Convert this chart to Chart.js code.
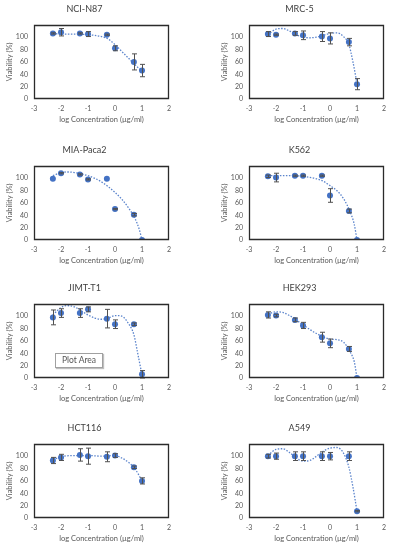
<!DOCTYPE html>
<html><head><meta charset="utf-8">
<script src="https://cdn.jsdelivr.net/npm/chart.js@4.4.0/dist/chart.umd.min.js"></script>
<style>
html,body{margin:0;padding:0;background:#fff;}
body{width:393px;height:550px;position:relative;overflow:hidden;}
.c{position:absolute;width:173px;height:130px;}
.tip{position:absolute;left:55px;top:353px;width:46px;height:13px;border:1px solid #a0a0a0;background:#fff;
 box-shadow:1px 1px 1px rgba(0,0,0,0.25);font:8.5px Lato,"Liberation Sans",sans-serif;color:#555;line-height:13px;text-align:center;}
</style></head><body>
<div class="c" style="left:0;top:0"><canvas id="c0" width="173" height="130"></canvas></div>
<div class="c" style="left:215px;top:0"><canvas id="c1" width="173" height="130"></canvas></div>
<div class="c" style="left:0;top:141px"><canvas id="c2" width="173" height="130"></canvas></div>
<div class="c" style="left:215px;top:141px"><canvas id="c3" width="173" height="130"></canvas></div>
<div class="c" style="left:0;top:279px"><canvas id="c4" width="173" height="130"></canvas></div>
<div class="c" style="left:215px;top:279px"><canvas id="c5" width="173" height="130"></canvas></div>
<div class="c" style="left:0;top:419px"><canvas id="c6" width="173" height="130"></canvas></div>
<div class="c" style="left:215px;top:419px"><canvas id="c7" width="173" height="130"></canvas></div>
<div class="tip">Plot Area</div>
<script>
// log10 concentrations (µg/ml)
const logConc = [-2.301, -2, -1.301, -1, -0.301, 0, 0.699, 1];
const xTicks = [-3, -2, -1, 0, 1, 2];
const yTicks = [0, 20, 40, 60, 80, 100, 120];

const titles = ["NCI-N87", "MRC-5", "MIA-Paca2", "K562", "JIMT-T1", "HEK293", "HCT116", "A549"];

// viability (%) per cell line
const nci = [106, 108, 106, 105, 104, 82, 60, 46];
const mrc = [105, 104, 106, 103, 101, 98, 92, 24];
const mia = [99, 108, 106, 98, 99, 50, 41, 0];
const k562 = [103, 101, 104, 104, 104, 72, 47, 0];
const jimt = [98, 105, 105, 111, 96, 87, 87, 6];
const hek = [102, 101, 94, 85, 66, 56, 47, 0];
const hct = [93, 98, 102, 100, 99, 101, 82, 60];
const a549 = [100, 100, 100, 100, 100, 100, 100, 11];

// error bar half-widths
const nciErr = [1, 6, 1, 4, 1, 4, 13, 10];
const mrcErr = [4, 1, 3, 7, 8, 9, 6, 9];
const miaErr = [0, 1, 1, 1, 0, 1, 2, 0];
const k562Err = [2, 7, 1, 1, 1, 11, 3, 0];
const jimtErr = [12, 7, 7, 4, 15, 7, 2, 6];
const hekErr = [5, 2, 3, 5, 8, 7, 4, 0];
const hctErr = [5, 5, 10, 13, 8, 3, 2, 5];
const a549Err = [3, 5, 7, 7, 7, 6, 7, 1];

// polynomial trendlines
const nciTrendX = [-2.3, -2, -1.5, -1, -0.5, -0.25, 0, 0.25, 0.5, 0.75, 1];
const nciTrendY = [106, 105, 105, 104, 101, 97, 88, 77, 66, 55, 45];
const mrcTrendX = [-2.3, -2, -1.75, -1.5, -1.25, -1, -0.75, -0.5, -0.25, 0, 0.25, 0.5, 0.7, 0.85, 1];
const mrcTrendY = [104, 113, 114, 110, 104, 100, 99, 100, 103, 106, 107, 101, 88, 60, 25];
const miaTrendX = [-2.3, -2, -1.75, -1.5, -1, -0.5, 0, 0.25, 0.5, 0.75, 0.9, 1];
const miaTrendY = [104, 109, 110, 109, 104, 94, 77, 66, 52, 34, 17, 0];
const k562TrendX = [-2.3, -2, -1.5, -1, -0.5, -0.25, 0, 0.25, 0.5, 0.75, 0.9, 1];
const k562TrendY = [104, 104, 104, 103, 99, 95, 88, 80, 67, 45, 25, 0];
const jimtTrendX = [-2.3, -2, -1.8, -1.5, -1.3, -1, -0.75, -0.5, -0.25, 0, 0.25, 0.5, 0.7, 0.85, 1];
const jimtTrendY = [102, 114, 117, 115, 110, 102, 97, 95, 97, 101, 100, 88, 70, 38, 5];
const hekTrendX = [-2.3, -2, -1.75, -1.5, -1.25, -1, -0.5, 0, 0.25, 0.5, 0.75, 0.9, 1];
const hekTrendY = [103, 107, 106, 101, 94, 86, 72, 63, 62, 58, 42, 26, 0];
const hctTrendX = [-2.3, -2, -1.5, -1, -0.5, 0, 0.25, 0.5, 0.75, 1];
const hctTrendY = [94, 99, 101, 101, 100, 101, 97, 90, 79, 60];
const a549TrendX = [-2.3, -2, -1.75, -1.5, -1.25, -1, -0.75, -0.5, -0.25, 0, 0.25, 0.5, 0.7, 0.85, 1];
const a549TrendY = [101, 111, 112, 106, 97, 92, 93, 100, 108, 113, 114, 105, 82, 50, 11];

const series = [
  [nci, nciErr, nciTrendX, nciTrendY],
  [mrc, mrcErr, mrcTrendX, mrcTrendY],
  [mia, miaErr, miaTrendX, miaTrendY],
  [k562, k562Err, k562TrendX, k562TrendY],
  [jimt, jimtErr, jimtTrendX, jimtTrendY],
  [hek, hekErr, hekTrendX, hekTrendY],
  [hct, hctErr, hctTrendX, hctTrendY],
  [a549, a549Err, a549TrendX, a549TrendY]
];

Chart.defaults.font.family = 'Lato, "Liberation Sans", sans-serif';

const BLUE = '#4472C4';

const decorations = {
  id: 'decorations',
  afterDatasetsDraw(chart, args, opts) {
    const ctx = chart.ctx, xs = chart.scales.x, ys = chart.scales.y;
    ctx.save();
    ctx.setLineDash([]);
    ctx.strokeStyle = '#505050';
    ctx.lineWidth = 1;
    opts.vals.forEach((v, i) => {
      const e = opts.errs[i];
      if (!e) return;
      const px = Math.round(xs.getPixelForValue(logConc[i])) + 0.5;
      const t = ys.getPixelForValue(v + e), b = ys.getPixelForValue(v - e);
      ctx.beginPath();
      ctx.moveTo(px, t); ctx.lineTo(px, b);
      ctx.moveTo(px - 2.5, t); ctx.lineTo(px + 2.5, t);
      ctx.moveTo(px - 2.5, b); ctx.lineTo(px + 2.5, b);
      ctx.stroke();
    });
    ctx.restore();
  },
  afterDraw(chart) {
    const ctx = chart.ctx, a = chart.chartArea;
    ctx.save();
    ctx.setLineDash([]);
    ctx.globalAlpha = 1;
    ctx.strokeStyle = '#2b2b2b';
    ctx.lineWidth = 1.3;
    const l = Math.round(a.left) + 0.5, t = Math.round(a.top) + 0.5;
    const r = Math.round(a.right) - 0.5, b = Math.round(a.bottom) - 0.5;
    ctx.beginPath();
    ctx.moveTo(l, t); ctx.lineTo(r, t); ctx.lineTo(r, b); ctx.lineTo(l, b); ctx.closePath();
    ctx.stroke();
    ctx.restore();
  }
};

series.forEach((s, k) => {
  const [vals, errs, tx, ty] = s;
  new Chart(document.getElementById('c' + k), {
    type: 'scatter',
    data: {
      datasets: [
        {
          data: logConc.map((x, i) => ({x: x, y: vals[i]})),
          backgroundColor: BLUE, borderColor: BLUE,
          pointRadius: 3, pointBorderWidth: 0, showLine: false
        },
        {
          data: tx.map((x, i) => ({x: x, y: ty[i]})),
          showLine: true, pointRadius: 0, borderColor: '#5b84cc',
          borderWidth: 1.3, borderDash: [1.5, 1.5], cubicInterpolationMode: 'monotone', fill: false
        }
      ]
    },
    options: {
      responsive: false, animation: false,
      layout: {padding: {left: 0, right: 4, top: 0, bottom: 0}},
      plugins: {
        legend: {display: false}, tooltip: {enabled: false},
        title: {display: true, text: titles[k], color: '#404040', font: {size: 9, weight: 'normal'},
                padding: {top: 4, bottom: 10}},
        decorations: {vals: vals, errs: errs}
      },
      scales: {
        x: {
          type: 'linear', min: -3, max: 2,
          afterBuildTicks: sc => { sc.ticks = xTicks.map(v => ({value: v})); },
          afterFit: sc => { sc.height = 31; sc.paddingLeft = 0; sc.paddingRight = 0; },
          grid: {display: false, drawTicks: false},
          border: {display: false},
          ticks: {color: '#595959', font: {size: 7}, padding: 6, maxRotation: 0},
          title: {display: true, text: 'log Concentration (µg/ml)', color: '#595959', font: {size: 7.5},
                  padding: {top: 0, bottom: 5.5}}
        },
        y: {
          min: 0, max: 120,
          afterBuildTicks: sc => { sc.ticks = yTicks.map(v => ({value: v})); },
          afterFit: sc => { sc.width = 34; sc.paddingTop = 0; sc.paddingBottom = 0; },
          grid: {display: false, drawTicks: false},
          border: {display: false},
          ticks: {color: '#595959', font: {size: 7}, padding: 6, callback: v => v === 120 ? '' : v},
          title: {display: true, text: 'Viability (%)', color: '#595959', font: {size: 7.5},
                  padding: {top: 5.5, bottom: 0}}
        }
      }
    },
    plugins: [decorations]
  });
});
</script>
</body></html>
